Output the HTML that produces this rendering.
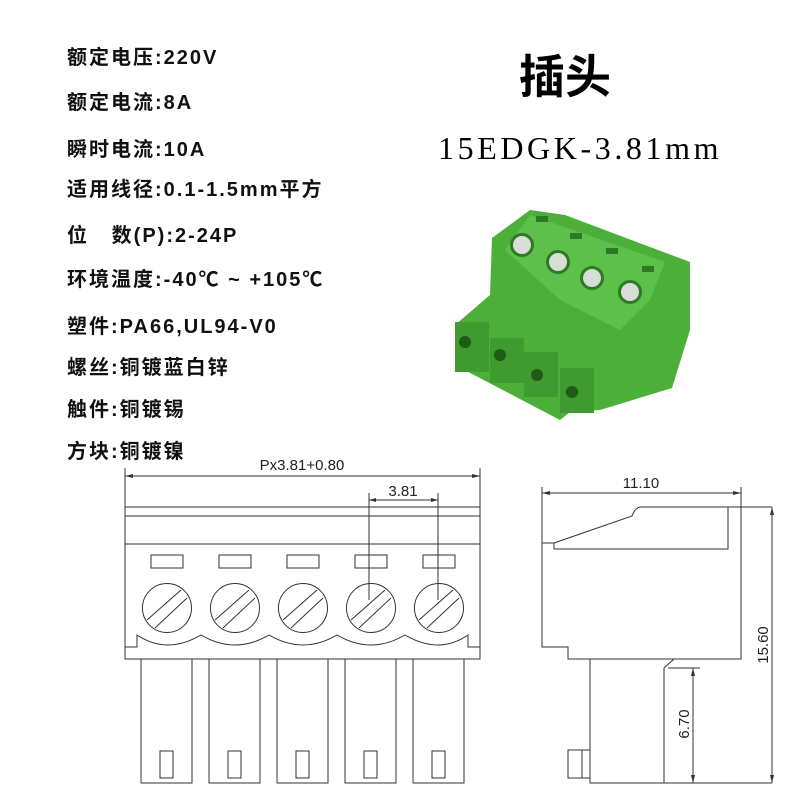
<!DOCTYPE html>
<html><head><meta charset="utf-8"><style>
body{margin:0;width:800px;height:800px;background:#fff;position:relative;overflow:hidden}
.t{position:absolute;left:67px;font:bold 20px "Liberation Sans","Noto Sans CJK SC",sans-serif;letter-spacing:2px;color:#111;white-space:nowrap;line-height:24px}
</style></head><body>
<div class="t" style="top:46px">额定电压:220V</div>
<div class="t" style="top:91px">额定电流:8A</div>
<div class="t" style="top:138px">瞬时电流:10A</div>
<div class="t" style="top:178px">适用线径:0.1-1.5mm平方</div>
<div class="t" style="top:224px">位&nbsp;&nbsp;&nbsp;数(P):2-24P</div>
<div class="t" style="top:268px">环境温度:-40℃ ~ +105℃</div>
<div class="t" style="top:315px">塑件:PA66,UL94-V0</div>
<div class="t" style="top:356px">螺丝:铜镀蓝白锌</div>
<div class="t" style="top:398px">触件:铜镀锡</div>
<div class="t" style="top:440px">方块:铜镀镍</div>
<div style="position:absolute;left:500px;top:44px;width:130px;text-align:center;font:bold 46px 'Noto Sans CJK SC',sans-serif;line-height:60px">插头</div>
<div style="position:absolute;left:438px;top:130px;font:32px 'Liberation Serif',serif;letter-spacing:3.6px;line-height:36px">15EDGK-3.81mm</div>
<svg width="800" height="800" style="position:absolute;left:0;top:0">
<g>
<path d="M492 238 L530 210 L565 215 L690 262 L690 330 L672 388 L600 410 L570 412 L560 420 L455 365 L455 325 L490 295 Z" fill="#4caf3a"/>
<path d="M505 250 L530 215 L665 262 L650 300 L620 330 L560 300 Z" fill="#5cc04a"/>
<g fill="#2e7a22"><circle cx="522" cy="245" r="12"/><circle cx="558" cy="262" r="12"/><circle cx="592" cy="278" r="12"/><circle cx="630" cy="292" r="12"/></g>
<g fill="#d8ddd8"><circle cx="522" cy="245" r="9"/><circle cx="558" cy="262" r="9"/><circle cx="592" cy="278" r="9"/><circle cx="630" cy="292" r="9"/></g>
<g fill="#3f9a2f"><rect x="455" y="322" width="34" height="50"/><rect x="490" y="338" width="34" height="45"/><rect x="524" y="352" width="34" height="45"/><rect x="560" y="368" width="34" height="45"/></g>
<g fill="#1e5a18"><circle cx="465" cy="342" r="6"/><circle cx="500" cy="355" r="6"/><circle cx="537" cy="375" r="6"/><circle cx="572" cy="392" r="6"/></g>
<g fill="#2e7a22"><rect x="536" y="216" width="12" height="6"/><rect x="570" y="233" width="12" height="6"/><rect x="606" y="248" width="12" height="6"/><rect x="642" y="266" width="12" height="6"/></g>
</g>
<g stroke="#333" stroke-width="1" fill="none">
<path d="M125 468V659H480V468M125 476H480M125 507H480M125 516H480M125 544H480"/>
<path d="M125 647H137V635 Q167 655 201 635 Q235 655 269 635 Q303 655 337 635 Q371 655 405 635 Q439 655 468 635V647H480"/>
<path d="M369 493V600M438 493V600M369 500H438"/>
<g id="u">
<rect x="151" y="555" width="32" height="13"/>
<circle cx="167" cy="608" r="24.5"/>
<path d="M147 620L181 590M155 628L187 598"/>
<rect x="141" y="659" width="51" height="124"/>
<rect x="160" y="751" width="13" height="27"/>
</g>
<use href="#u" x="68"/><use href="#u" x="136"/><use href="#u" x="204"/><use href="#u" x="272"/>
<path d="M542 487V647H568V659H741V487M542 493H741"/>
<path d="M640 507H772M542 543H554V549H728V507M554 543L632 516Q635 508 640 507"/>
<path d="M590 659V783H772M664 783V668L674 659M668 668H700"/>
<path d="M693 668V783M772 507V783"/>
<rect x="568" y="750" width="22" height="28"/><path d="M582 750V778"/>
</g>
<g fill="#333"><path d="M125 476l8-2v4z M480 476l-8-2v4z M369 500l7-2v4z M438 500l-7-2v4z M542 493l8-2v4z M741 493l-8-2v4z M772 507l-2 8h4z M772 783l-2-8h4z M693 668l-2 8h4z M693 783l-2-8h4z"/></g>
<g font-family="Liberation Sans,sans-serif" font-size="15" fill="#222">
<text x="302" y="470" text-anchor="middle">Px3.81+0.80</text>
<text x="403" y="496" text-anchor="middle">3.81</text>
<text x="641" y="488" text-anchor="middle">11.10</text>
<text transform="translate(768 645) rotate(-90)" text-anchor="middle">15.60</text>
<text transform="translate(689 724) rotate(-90)" text-anchor="middle">6.70</text>
</g>
</svg>
</body></html>
